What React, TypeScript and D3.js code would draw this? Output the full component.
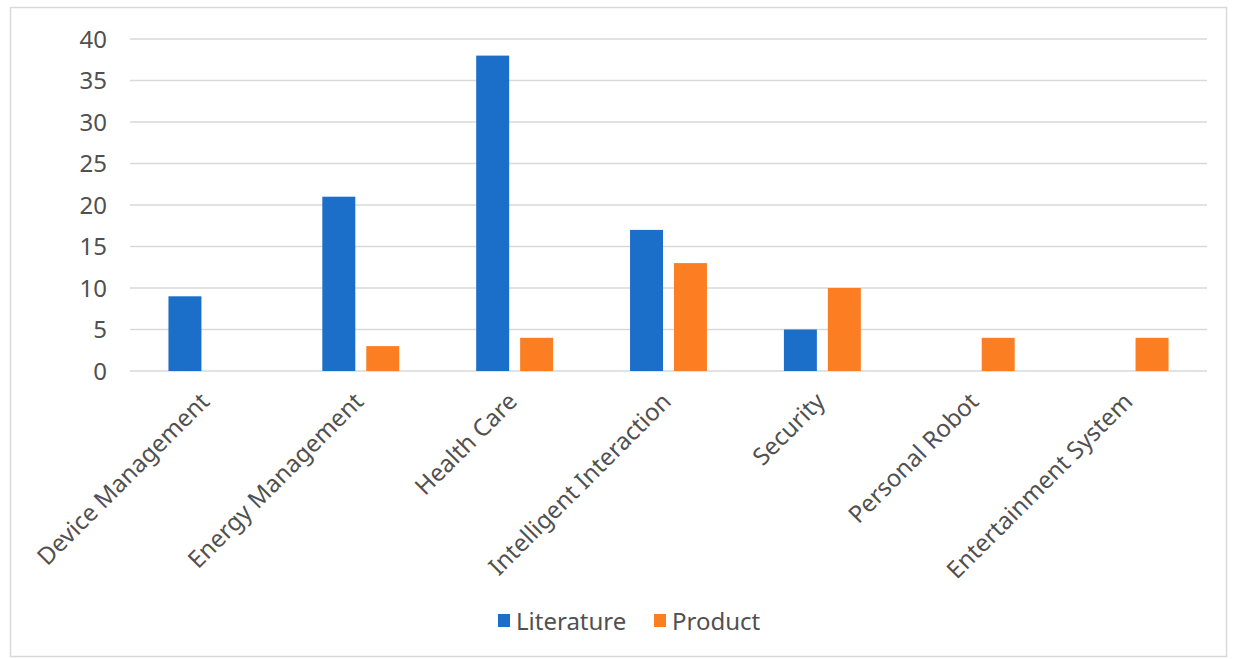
import React, { useEffect, useRef } from "react";
import * as d3 from "d3";

const categories = [
  "Device Management",
  "Energy Management",
  "Health Care",
  "Intelligent Interaction",
  "Security",
  "Personal Robot",
  "Entertainment System",
];
const literature = [9, 21, 38, 17, 5, 0, 0];
const product = [0, 3, 4, 13, 10, 4, 4];
const seriesNames = ["Literature", "Product"];
const yTicks = [0, 5, 10, 15, 20, 25, 30, 35, 40];

const colors = ["#1b6fc8", "#fb7e22"];
const FONT = "'Noto Sans', 'DejaVu Sans', sans-serif";
const TEXT = "#505050";

export default function App() {
  const ref = useRef<SVGSVGElement>(null);

  useEffect(() => {
    const svg = d3.select(ref.current);
    svg.selectAll("*").remove();

    const width = 1235;
    const height = 659;
    const margin = { top: 39, right: 28, bottom: 288, left: 130 };
    const innerW = width - margin.left - margin.right;
    const innerH = height - margin.top - margin.bottom;

    // outer border
    svg
      .append("rect")
      .attr("x", 10.5)
      .attr("y", 7.5)
      .attr("width", 1216)
      .attr("height", 649)
      .attr("fill", "#fff")
      .attr("stroke", "#d9d9d9")
      .attr("stroke-width", 1.5);

    const g = svg
      .append("g")
      .attr("transform", "translate(" + margin.left + "," + margin.top + ")");

    const x0 = d3
      .scaleBand()
      .domain(categories)
      .range([0, innerW])
      .paddingInner(0.5)
      .paddingOuter(0.25);
    const x1 = d3
      .scaleBand()
      .domain(seriesNames)
      .range([0, x0.bandwidth()])
      .paddingInner(0.25);
    const y = d3.scaleLinear().domain([0, 40]).range([innerH, 0]);

    // gridlines
    g.append("g")
      .selectAll("line")
      .data(yTicks)
      .join("line")
      .attr("x1", 0)
      .attr("x2", innerW)
      .attr("y1", (d) => y(d))
      .attr("y2", (d) => y(d))
      .attr("stroke", "#d9d9d9")
      .attr("stroke-width", 1.5);

    // y labels
    g.append("g")
      .selectAll("text")
      .data(yTicks)
      .join("text")
      .attr("x", -23)
      .attr("y", (d) => y(d))
      .attr("dy", "0.36em")
      .attr("text-anchor", "end")
      .attr("fill", TEXT)
      .style("font-family", FONT)
      .style("font-size", "24px")
      .text((d) => d);

    const seriesData = [literature, product];

    // bars
    const groups = g
      .append("g")
      .selectAll("g")
      .data(categories)
      .join("g")
      .attr("transform", (d) => "translate(" + x0(d) + ",0)");

    groups
      .selectAll("rect")
      .data((d, i) =>
        seriesNames.map((s, j) => ({ s, j, v: seriesData[j][i] }))
      )
      .join("rect")
      .attr("x", (d) => x1(d.s) as number)
      .attr("width", x1.bandwidth())
      .attr("y", (d) => y(d.v))
      .attr("height", (d) => innerH - y(d.v))
      .attr("fill", (d) => colors[d.j]);

    // category labels
    g.append("g")
      .selectAll("text")
      .data(categories)
      .join("text")
      .attr(
        "transform",
        (d) =>
          "translate(" +
          ((x0(d) as number) + x0.bandwidth() / 2 + 4) +
          "," +
          (innerH + 32) +
          ") rotate(-45)"
      )
      .attr("text-anchor", "end")
      .attr("fill", TEXT)
      .style("font-family", FONT)
      .style("font-size", "24px")
      .text((d) => d);

    // legend
    const legend = svg.append("g");
    const legendX = [498, 654];
    seriesNames.forEach((s, i) => {
      legend
        .append("rect")
        .attr("x", legendX[i])
        .attr("y", 614)
        .attr("width", 12)
        .attr("height", 13)
        .attr("fill", colors[i]);
      legend
        .append("text")
        .attr("x", legendX[i] + 18)
        .attr("y", 630)
        .attr("fill", TEXT)
        .style("font-family", FONT)
        .style("font-size", "24px")
        .text(s);
    });
  }, []);

  return (
    <svg
      ref={ref}
      width={1235}
      height={659}
      style={{ position: "absolute", left: 0, top: 0, background: "#fff" }}
    />
  );
}
